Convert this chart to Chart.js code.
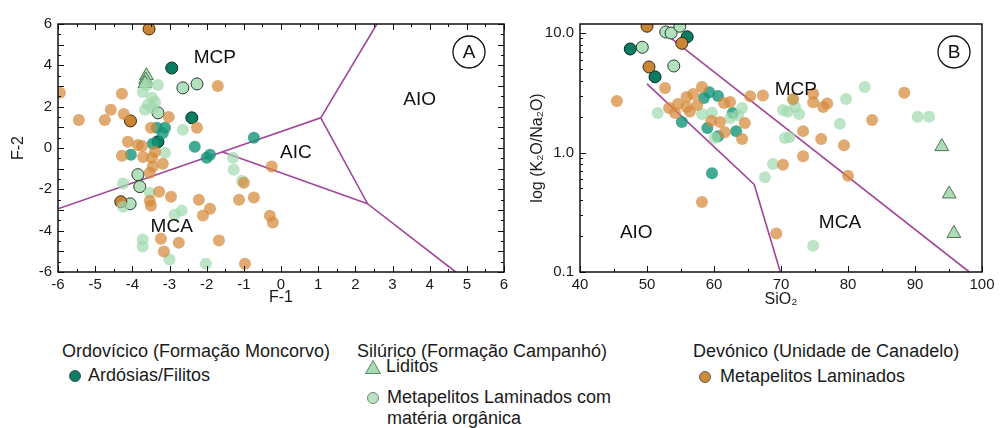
<!DOCTYPE html>
<html>
<head>
<meta charset="utf-8">
<script src="https://cdn.jsdelivr.net/npm/chart.js@4.4.1/dist/chart.umd.min.js"></script>
<style>
  body { margin: 0; background: #fff; width: 1001px; height: 428px; overflow: hidden; position: relative; font-family: 'Liberation Sans', Arial, sans-serif; }
  #wrapA { position: absolute; left: 0; top: 0; width: 520px; height: 312px; }
  #wrapB { position: absolute; left: 520px; top: 0; width: 481px; height: 312px; }
  .lg { position: absolute; font-family: 'Liberation Sans', Arial, sans-serif; font-size: 18px; color: #1a1a1a; line-height: 21px; white-space: nowrap; }
  .mk { position: absolute; }
</style>
</head>
<body>
<div id="wrapA"><canvas id="chartA"></canvas></div>
<div id="wrapB"><canvas id="chartB"></canvas></div>

<div class="lg" style="left:62px;top:341px">Ordovícico (Formação Moncorvo)</div>
<svg class="mk" style="left:68px;top:369px" width="14" height="14"><circle cx="7" cy="7" r="5.5" fill="#0c7d63" stroke="#333" stroke-width="0.8"/></svg>
<div class="lg" style="left:88px;top:365px">Ardósias/Filitos</div>

<div class="lg" style="left:357px;top:341px">Silúrico (Formação Campanhó)</div>
<svg class="mk" style="left:364px;top:359px" width="18" height="16"><polygon points="9,1.5 16.5,14.5 1.5,14.5" fill="#a9dbb2" stroke="#4f7a58" stroke-width="0.9"/></svg>
<div class="lg" style="left:386px;top:356px">Liditos</div>
<svg class="mk" style="left:366px;top:391px" width="14" height="14"><circle cx="7" cy="7" r="5.5" fill="#b9e3c2" stroke="#666" stroke-width="0.8"/></svg>
<div class="lg" style="left:387px;top:387px">Metapelitos Laminados com<br>matéria orgânica</div>

<div class="lg" style="left:693px;top:341px">Devónico (Unidade de Canadelo)</div>
<svg class="mk" style="left:698px;top:370px" width="14" height="14"><circle cx="7" cy="7" r="5.5" fill="#cf8a37" stroke="#444" stroke-width="0.8"/></svg>
<div class="lg" style="left:720px;top:366px">Metapelitos Laminados</div>

<script>
// ---------- data: panel A (F-1, F-2) ----------
var ardA     = [[-3.34,0.98],[-3.12,0.98],[-3.18,0.73],[-2.32,0.06],[-3.45,0.2],[-0.73,0.5],[-4.04,-0.33],[-2.0,-0.47],[-1.91,-0.33]];
var ardEdgeA = [[-2.94,3.87],[-2.4,1.46],[-3.31,0.3]];
var lidA     = [[-3.62,3.5],[-3.64,3.3],[-3.66,3.12]];
var orgA     = [[-3.61,3.05],[-3.31,3.05],[-3.72,2.71],[-3.47,2.43],[-3.58,2.09],[-3.39,2.23],[-3.66,1.85],[-3.45,1.94],[-2.64,0.88],
                [-3.12,-0.23],[-4.25,-1.72],[-3.53,-2.16],[-4.25,-2.84],[-2.86,-3.23],[-2.67,-3.03],[-3.72,-4.43],[-3.72,-4.77],
                [-3.0,-5.4],[-2.02,-5.6],[-1.29,-0.47],[-1.27,-1.05],[-1.05,-1.58]];
var orgEdgeA = [[-3.31,1.7],[-2.64,2.91],[-2.26,3.1],[-3.85,-1.29],[-3.8,-1.87],[-4.06,-2.7]];
var devA     = [[-5.95,2.67],[-5.44,1.36],[-4.74,1.36],[-4.58,1.85],[-4.28,2.62],[-4.23,1.65],[-3.5,0.98],[-3.02,1.5],[-2.26,0.98],
                [-1.7,3.0],[-4.12,0.3],[-3.85,0.15],[-3.74,0.1],[-4.28,-0.38],[-3.71,-0.43],[-3.47,-0.47],[-3.39,-0.18],[-3.45,-0.9],
                [-3.18,-0.76],[-3.53,-1.2],[-3.28,-2.12],[-2.96,-2.36],[-3.53,-2.55],[-3.5,-2.8],[-2.21,-2.5],[-1.91,-2.94],[-2.1,-3.27],
                [-1.13,-2.5],[-0.73,-2.4],[-3.23,-4.39],[-2.75,-4.58],[-3.15,-5.01],[-1.67,-4.48],[-0.97,-5.6],[-1.0,-1.68],[-0.25,-0.9],
                [-0.3,-3.28],[-0.22,-3.6]];
var devEdgeA = [[-3.55,5.76],[-4.05,1.31],[-4.31,-2.6]];
var lineA1 = [[-6,-2.94],[1.07,1.46],[2.58,6]];
var lineA2 = [[1.07,1.46],[2.33,-2.7],[4.7,-6]];
var lineA3 = [[-1.59,-0.18],[2.33,-2.7]];
var textA  = [['MCP',-1.78,4.36],['AIO',3.73,2.33],['AIC',0.4,-0.23],['MCA',-2.94,-3.81]];

// ---------- data: panel B (SiO2, K2O/Na2O) ----------
var ardB     = [[59.3,3.2],[60.6,2.97],[58.5,2.86],[62.8,2.14],[55.2,1.8],[59.0,1.6],[60.6,1.37],[63.3,1.51],[59.7,0.67]];
var ardEdgeB = [[56.0,9.3],[47.5,7.35],[51.2,4.3]];
var lidB     = [[94.0,1.12],[95.1,0.45],[95.8,0.21]];
var orgB     = [[51.6,2.14],[64.2,2.36],[62.4,1.94],[63.6,2.05],[58.2,2.1],[59.7,2.15],[60.1,1.32],[67.6,0.62],[68.8,0.8],[70.3,2.27],
                [71.0,2.19],[72.1,2.4],[72.7,2.1],[70.6,1.32],[71.3,1.35],[79.7,2.8],[78.8,1.74],[82.5,3.53],[90.4,1.99],[92.1,1.99],
                [74.8,0.166],[71.8,2.76]];
var orgEdgeB = [[52.8,10.2],[53.6,10.0],[54.9,11.4],[49.3,7.6],[54.0,5.3]];
var devB     = [[45.5,2.7],[52.7,3.47],[53.3,2.36],[54.6,2.55],[55.9,2.91],[56.9,3.09],[58.2,3.53],[55.9,2.4],[57.5,2.5],[56.4,2.2],
                [54.2,2.14],[61.5,2.6],[62.4,2.65],[65.4,2.96],[67.3,3.0],[59.6,1.84],[60.9,1.8],[61.6,1.48],[64.6,1.77],[64.2,1.3],
                [70.3,0.79],[71.8,2.8],[73.3,1.51],[73.3,0.93],[74.8,2.64],[74.8,3.1],[76.3,2.4],[76.9,2.57],[76.0,1.3],[79.4,1.15],
                [80.0,0.64],[83.6,1.87],[88.4,3.16],[69.3,0.21],[58.2,0.385]];
var devEdgeB = [[50.0,11.4],[55.2,8.2],[50.3,5.2]];
var lineB1 = [[53.0,9.6],[98.1,0.1]];
var lineB2 = [[50.0,3.75],[66.0,0.54],[69.9,0.1]];
var textB  = [['MCP',72.2,3.34],['MCA',78.8,0.257],['AIO',48.4,0.212]];
var logLabels = [0.1, 1, 10];

var FONT = "'Liberation Sans', Arial, sans-serif";
var PURPLE = '#a2449a';

function pts(arr) { return arr.map(function(p) { return { x: p[0], y: p[1] }; }); }

function pointSet(arr, fill, edge, style, radius) {
  return {
    type: 'scatter', data: pts(arr), order: 1, clip: 0,
    pointStyle: style || 'circle', pointRadius: radius || 6, pointHoverRadius: radius || 6,
    backgroundColor: fill, borderColor: edge || 'rgba(0,0,0,0)', borderWidth: edge ? 1 : 0
  };
}

function lineSet(arr) {
  return {
    type: 'line', data: pts(arr), order: 5, borderColor: PURPLE, borderWidth: 1.6,
    pointRadius: 0, fill: false, tension: 0
  };
}

function makeSets(ard, ardE, lid, org, orgE, dev, devE, lines) {
  var s = lines.map(lineSet);
  s.push(pointSet(dev, 'rgba(212,137,58,0.72)'));
  s.push(pointSet(org, 'rgba(160,218,175,0.7)'));
  s.push(pointSet(ard, 'rgba(20,150,120,0.8)'));
  s.push(pointSet(devE, '#c98434', '#3a2a10'));
  s.push(pointSet(orgE, '#b3e0bd', '#2c3a30'));
  s.push(pointSet(ardE, '#0a7c61', '#0b2b22'));
  s.push(pointSet(lid, 'rgba(160,214,170,0.85)', '#4d7555', 'triangle', 8));
  return s;
}

// frame, inward tick marks, region names and panel letter
var decor = {
  id: 'decor',
  afterDatasetsDraw: function(chart, args, o) {
    var ctx = chart.ctx, a = chart.chartArea;
    var xs = chart.scales.x, ys = chart.scales.y;
    ctx.save();
    ctx.strokeStyle = '#111';
    ctx.lineWidth = 1;
    o.xTicks.forEach(function(t) {
      var px = Math.round(xs.getPixelForValue(t[0])) + 0.5, len = t[1] ? 6 : 3;
      ctx.beginPath(); ctx.moveTo(px, a.bottom); ctx.lineTo(px, a.bottom - len); ctx.stroke();
      if (o.mirror) { ctx.beginPath(); ctx.moveTo(px, a.top); ctx.lineTo(px, a.top + len); ctx.stroke(); }
    });
    o.yTicks.forEach(function(t) {
      var py = Math.round(ys.getPixelForValue(t[0])) + 0.5, len = t[1] ? 6 : 3;
      ctx.beginPath(); ctx.moveTo(a.left, py); ctx.lineTo(a.left + len, py); ctx.stroke();
      if (o.mirror) { ctx.beginPath(); ctx.moveTo(a.right, py); ctx.lineTo(a.right - len, py); ctx.stroke(); }
    });
    // white band above the frame hides the half-cut points, like the original
    ctx.fillStyle = '#fff';
    ctx.fillRect(a.left - 2, 0, a.right - a.left + 4, a.top - 1);
    ctx.lineWidth = 1.5;
    ctx.strokeRect(a.left, a.top, a.right - a.left, a.bottom - a.top);

    ctx.fillStyle = '#111';
    ctx.font = '19px ' + FONT;
    ctx.textAlign = 'center';
    ctx.textBaseline = 'middle';
    o.texts.forEach(function(t) {
      ctx.fillText(t[0], xs.getPixelForValue(t[1]), ys.getPixelForValue(t[2]));
    });
    var cx = a.right - o.letterDx, cy = a.top + 28;
    ctx.lineWidth = 1.3;
    ctx.beginPath(); ctx.arc(cx, cy, 16, 0, Math.PI * 2); ctx.stroke();
    ctx.fillText(o.letter, cx, cy + 1);
    ctx.restore();
  }
};

function stepTicks(min, max, step, major) {
  var out = [];
  for (var v = min; v <= max + 1e-9; v += step) {
    var r = Math.round(v * 100) / 100;
    out.push([r, Math.abs(r / major - Math.round(r / major)) < 1e-6]);
  }
  return out;
}

function logTicks(max) {
  var out = [];
  [0.1, 1, 10].forEach(function(d) {
    for (var k = 1; k <= 9; k++) { if (d * k <= max) out.push([d * k, k === 1]); }
  });
  return out;
}

var tickFont = { family: FONT, size: 15 };
var titleFont = { family: FONT, size: 16 };

new Chart(document.getElementById('chartA'), {
  data: { datasets: makeSets(ardA, ardEdgeA, lidA, orgA, orgEdgeA, devA, devEdgeA, [lineA1, lineA2, lineA3]) },
  options: {
    responsive: true, maintainAspectRatio: false, animation: false,
    layout: { padding: { top: 24, right: 16, left: 0, bottom: 0 } },
    plugins: {
      legend: { display: false }, tooltip: { enabled: false },
      decor: { xTicks: stepTicks(-6, 6, 0.5, 1), yTicks: stepTicks(-6, 6, 0.5, 1), mirror: true,
               texts: textA, letter: 'A', letterDx: 35 }
    },
    scales: {
      x: {
        type: 'linear', min: -6, max: 6,
        ticks: { stepSize: 1, font: tickFont, color: '#1a1a1a', padding: 4, maxRotation: 0 },
        grid: { display: false, drawTicks: false }, border: { display: false },
        title: { display: true, text: 'F-1', font: titleFont, color: '#1a1a1a', padding: { top: 0, bottom: 5 } },
        afterFit: function(s) { s.height = 40; }
      },
      y: {
        type: 'linear', min: -6, max: 6,
        ticks: { stepSize: 1, font: tickFont, color: '#1a1a1a', padding: 6 },
        grid: { display: false, drawTicks: false }, border: { display: false },
        title: { display: true, text: 'F-2', font: titleFont, color: '#1a1a1a', padding: { top: 9, bottom: 0 } },
        afterFit: function(s) { s.width = 58; }
      }
    }
  },
  plugins: [decor]
});

new Chart(document.getElementById('chartB'), {
  data: { datasets: makeSets(ardB, ardEdgeB, lidB, orgB, orgEdgeB, devB, devEdgeB, [lineB1, lineB2]) },
  options: {
    responsive: true, maintainAspectRatio: false, animation: false,
    layout: { padding: { top: 24, right: 19, left: 0, bottom: 0 } },
    plugins: {
      legend: { display: false }, tooltip: { enabled: false },
      decor: { xTicks: stepTicks(40, 100, 5, 10), yTicks: logTicks(11.9), mirror: false,
               texts: textB, letter: 'B', letterDx: 28 }
    },
    scales: {
      x: {
        type: 'linear', min: 40, max: 100,
        ticks: { stepSize: 10, font: tickFont, color: '#1a1a1a', padding: 4, maxRotation: 0 },
        grid: { display: false, drawTicks: false }, border: { display: false },
        title: { display: true, text: 'SiO₂', font: titleFont, color: '#1a1a1a', padding: { top: 0, bottom: 3 } },
        afterFit: function(s) { s.height = 40; }
      },
      y: {
        type: 'logarithmic', min: 0.1, max: 11.9,
        ticks: {
          font: tickFont, color: '#1a1a1a', padding: 6, autoSkip: false,
          callback: function(v) {
            var hit = logLabels.filter(function(l) { return Math.abs(v - l) < l * 1e-6; });
            return hit.length ? hit[0].toFixed(1) : '';
          }
        },
        grid: { display: false, drawTicks: false }, border: { display: false },
        title: { display: true, text: 'log (K₂O/Na₂O)', font: titleFont, color: '#1a1a1a', padding: { top: 8, bottom: 0 } },
        afterFit: function(s) { s.width = 60; }
      }
    }
  },
  plugins: [decor]
});
</script>
</body>
</html>
